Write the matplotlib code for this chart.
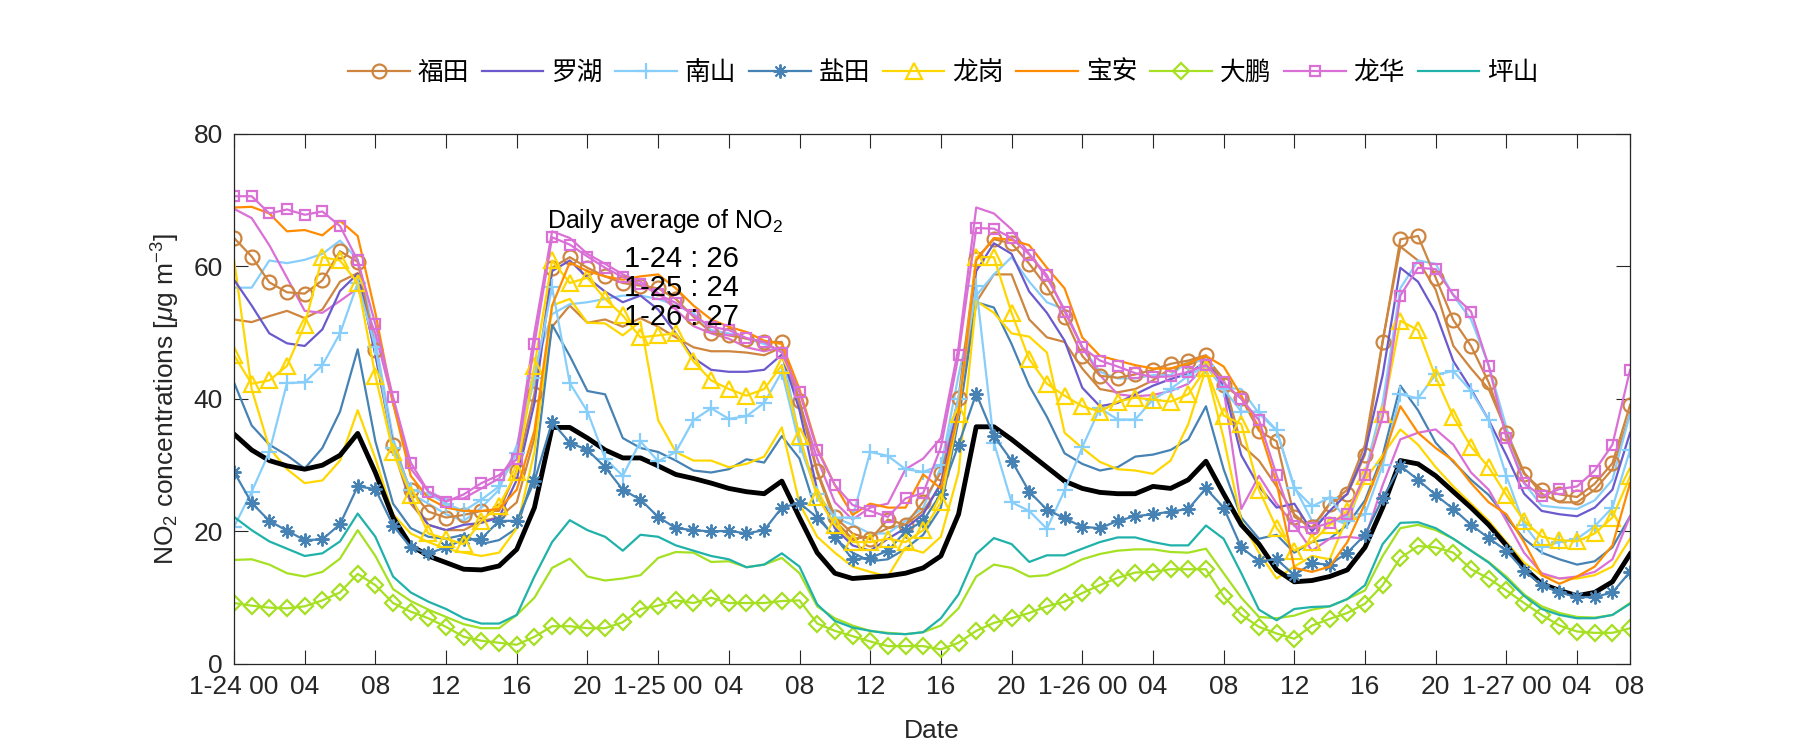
import matplotlib
matplotlib.use("Agg")
import matplotlib.pyplot as plt
from matplotlib import font_manager

# hours since 1-24 00 (80 hourly values)
hours = list(range(80))

futian = [64.3, 61.5, 57.6, 56.1, 55.9, 57.9, 62.3, 60.7, 47.4, 33.0, 26.2, 23.0, 22.1, 22.5,
          23.1, 23.1, 29.2, 40.8, 59.8, 61.4, 59.8, 58.5, 57.5, 57.1, 56.7, 55.1, 52.4,
          50.0, 49.6, 49.1, 48.6, 48.6, 39.7, 29.2, 22.2, 19.7, 18.8, 21.8, 21.0, 24.5,
          28.9, 40.2, 61.2, 64.1, 63.5, 60.4, 56.9, 52.3, 46.5, 43.5, 43.2, 43.7, 44.4,
          45.3, 45.8, 46.6, 42.1, 40.1, 35.2, 33.6, 22.2, 20.6, 24.2, 25.6, 31.6, 48.6,
          64.1, 64.6, 58.3, 51.9, 48.0, 42.5, 34.9, 28.7, 26.3, 25.6, 25.2, 27.2, 30.3, 39.1]
luohu = [58.0, 54.1, 49.9, 48.4, 48.0, 50.5, 56.3, 58.9, 46.7, 33.1, 24.7, 21.0, 20.2, 21.0,
         21.3, 22.1, 27.8, 39.4, 59.3, 60.9, 58.3, 56.2, 54.6, 55.6, 53.5, 49.9, 46.2,
         44.4, 44.1, 44.1, 44.4, 46.7, 38.3, 26.3, 20.5, 17.9, 17.1, 18.9, 20.5, 22.6,
         27.3, 39.4, 59.3, 63.5, 61.9, 56.2, 53.0, 48.8, 41.7, 38.9, 39.4, 40.7, 42.0,
         43.0, 43.8, 45.7, 42.0, 31.5, 26.8, 23.6, 24.2, 20.0, 23.1, 25.7, 32.0, 43.6,
         59.8, 57.7, 53.0, 45.7, 41.5, 36.8, 31.5, 25.7, 23.1, 22.6, 22.3, 23.6, 26.3, 34.9]
nanshan = [20.7, 26.0, 32.0, 42.4, 42.5, 45.1, 49.9, 57.5, 47.8, 32.6, 26.3, 25.7, 24.2, 23.1,
           24.8, 26.8, 31.8, 43.1, 56.9, 42.4, 38.1, 31.0, 28.4, 33.6, 30.6, 32.0, 36.8,
           38.6, 37.0, 37.4, 39.4, 44.1, 33.1, 25.7, 22.1, 22.1, 32.0, 31.4, 29.4, 29.0,
           30.0, 40.0, 57.0, 33.4, 24.4, 23.1, 20.4, 26.2, 32.7, 38.6, 36.9, 36.9, 39.9,
           41.5, 43.5, 45.0, 41.5, 38.1, 38.1, 35.3, 26.5, 23.8, 25.1, 21.6, 22.6, 30.0,
           40.7, 40.1, 43.7, 44.2, 41.2, 36.8, 28.4, 21.0, 17.6, 18.4, 18.9, 20.8, 23.6, 32.3]
yantian = [29.0, 24.3, 21.6, 20.1, 18.7, 18.8, 21.1, 26.8, 26.4, 20.9, 17.6, 16.7, 17.6, 18.8,
           18.9, 21.6, 21.6, 27.6, 36.5, 33.4, 32.3, 29.7, 26.3, 24.8, 22.2, 20.5, 20.2,
           20.0, 20.1, 19.7, 20.2, 23.6, 24.3, 22.1, 19.2, 15.8, 16.0, 17.1, 20.0, 21.6,
           25.7, 33.1, 40.8, 34.4, 30.7, 26.0, 23.3, 22.0, 20.7, 20.5, 21.6, 22.3, 22.6,
           23.0, 23.4, 26.5, 23.6, 17.6, 15.5, 15.8, 13.4, 15.2, 15.0, 16.8, 19.5, 25.0,
           29.9, 27.8, 25.5, 23.4, 21.0, 19.0, 17.1, 14.1, 11.9, 10.8, 10.1, 10.1, 10.8, 13.9]
longgang = [46.6, 42.3, 42.8, 45.0, 51.2, 61.4, 60.9, 57.5, 43.5, 32.0, 25.5, 19.7, 18.9, 18.1,
            21.6, 23.9, 29.0, 45.0, 60.9, 57.5, 58.3, 55.1, 52.6, 49.3, 49.6, 49.9, 45.7,
            42.8, 41.5, 40.5, 41.5, 45.1, 34.4, 25.2, 21.0, 18.4, 18.4, 18.9, 18.4, 20.2,
            24.4, 37.8, 61.4, 61.4, 53.0, 46.0, 42.3, 40.5, 38.9, 38.1, 39.6, 40.2, 39.9,
            39.6, 40.7, 44.6, 37.5, 36.2, 26.3, 20.5, 17.1, 18.4, 21.0, 23.1, 28.4, 37.8,
            51.8, 50.4, 43.3, 37.3, 32.8, 29.7, 25.5, 21.6, 19.2, 18.7, 18.5, 19.7, 22.1, 28.3]
baoan = [68.9, 69.0, 68.0, 65.3, 65.5, 64.7, 66.9, 64.6, 53.0, 39.4, 28.4, 25.0, 23.6, 23.1,
         23.1, 23.4, 26.3, 35.2, 54.1, 60.6, 59.3, 58.5, 58.0, 58.5, 58.8, 56.7, 54.1,
         52.0, 50.9, 50.1, 48.8, 48.3, 41.5, 32.6, 27.0, 22.5, 24.2, 23.6, 23.6, 28.6,
         26.5, 38.0, 60.9, 64.3, 64.0, 63.2, 59.8, 56.7, 49.3, 46.5, 45.8, 45.1, 44.6,
         44.6, 45.4, 46.5, 44.9, 40.5, 35.7, 27.3, 14.5, 13.9, 14.7, 18.4, 24.2, 31.0,
         38.9, 34.9, 32.6, 30.7, 27.3, 24.4, 22.6, 18.4, 13.4, 12.1, 13.2, 14.7, 17.9, 27.3]
dapeng = [9.2, 8.8, 8.5, 8.4, 8.7, 9.6, 10.8, 13.6, 11.9, 9.2, 7.9, 6.9, 5.6, 4.1,
          3.5, 3.2, 2.9, 4.1, 5.7, 5.7, 5.4, 5.4, 6.3, 8.3, 8.8, 9.6, 9.2,
          10.0, 9.2, 9.2, 9.2, 9.5, 9.6, 6.1, 5.0, 4.2, 3.4, 2.7, 2.7, 2.7,
          2.2, 3.2, 5.0, 6.2, 6.9, 7.7, 8.7, 9.4, 10.7, 11.9, 13.0, 13.8, 13.9,
          14.3, 14.3, 14.3, 10.2, 7.4, 5.6, 4.6, 3.8, 5.8, 6.8, 7.7, 9.1, 11.9,
          16.0, 17.8, 17.6, 16.8, 14.3, 12.9, 11.1, 9.2, 7.4, 5.8, 4.9, 4.7, 4.7, 5.4]
longhua = [70.6, 70.6, 68.0, 68.6, 67.8, 68.3, 66.1, 60.9, 51.3, 40.3, 30.4, 26.0, 24.5, 25.6,
           27.3, 28.5, 30.9, 48.3, 64.4, 63.3, 61.5, 59.8, 58.4, 57.3, 55.8, 54.5, 52.6,
           50.9, 50.4, 49.2, 48.6, 47.0, 41.0, 32.3, 27.0, 24.0, 23.1, 22.2, 25.0, 25.8,
           32.7, 46.6, 65.8, 65.7, 64.3, 61.8, 58.7, 53.2, 47.8, 45.8, 44.9, 43.9, 43.3,
           43.4, 44.1, 45.1, 42.5, 40.0, 36.8, 28.5, 20.8, 20.5, 21.3, 22.6, 28.5, 37.3,
           55.6, 59.8, 59.6, 55.7, 53.2, 45.0, 34.1, 27.3, 25.3, 26.4, 26.8, 29.2, 33.1, 44.4]
pingshan = [22.2, 20.2, 18.5, 17.4, 16.3, 16.7, 18.5, 22.7, 19.2, 13.2, 10.8, 9.4, 8.3, 6.9,
            6.1, 6.1, 7.4, 13.2, 18.4, 21.7, 20.2, 19.2, 17.1, 19.5, 19.2, 17.9, 17.1,
            16.3, 15.8, 14.6, 15.0, 16.7, 14.7, 9.0, 6.5, 5.5, 5.0, 4.6, 4.5, 4.8,
            6.9, 10.5, 16.6, 19.0, 18.1, 15.4, 16.4, 16.4, 17.4, 18.4, 19.1, 19.1, 18.4,
            17.9, 17.9, 20.9, 18.9, 13.7, 8.2, 6.6, 8.3, 8.6, 8.7, 9.8, 11.9, 18.1,
            21.3, 21.4, 20.5, 18.9, 17.1, 15.3, 12.9, 10.3, 8.3, 7.4, 6.9, 6.9, 7.4, 9.1]

# second sites in the same districts (drawn without markers, not in legend)
futian_b = [52.0, 51.6, 52.5, 53.3, 52.2, 53.5, 57.7, 59.0, 46.7, 32.6, 24.2, 21.0, 20.2, 20.2,
            21.6, 22.1, 24.4, 34.1, 50.9, 54.1, 51.5, 52.0, 50.9, 52.2, 50.9, 49.3, 47.8,
            47.2, 47.2, 47.0, 46.6, 47.8, 39.4, 28.9, 21.6, 18.9, 19.2, 20.5, 21.0, 23.1,
            27.0, 40.0, 54.6, 58.8, 58.8, 52.0, 49.3, 48.6, 44.6, 41.5, 41.0, 41.5, 42.8,
            44.6, 45.1, 46.3, 43.0, 33.1, 30.7, 26.8, 22.6, 20.2, 24.2, 26.3, 33.1, 48.8,
            63.0, 60.9, 56.5, 48.0, 44.6, 41.5, 35.2, 28.9, 25.7, 24.4, 24.4, 26.3, 29.4, 37.8]
nanshan_b = [56.8, 56.8, 60.9, 60.5, 61.0, 61.9, 63.9, 61.1, 48.8, 34.1, 25.7, 24.2, 22.6, 21.6,
             23.6, 26.3, 33.0, 44.6, 52.8, 54.3, 54.6, 55.1, 55.6, 55.6, 55.1, 54.1, 53.0,
             50.4, 49.9, 49.1, 48.3, 47.2, 34.1, 25.7, 22.1, 21.0, 19.7, 19.7, 21.6, 23.6,
             29.7, 43.6, 55.6, 58.8, 61.4, 57.7, 54.6, 53.5, 47.8, 44.1, 43.1, 43.1, 43.6,
             43.6, 45.7, 45.7, 41.7, 41.5, 37.8, 35.2, 26.8, 21.6, 22.1, 21.0, 28.9, 39.4,
             56.7, 60.9, 60.4, 55.6, 52.0, 45.1, 35.7, 27.3, 23.9, 23.6, 23.4, 24.7, 27.8, 37.8]
longgang_b = [61.1, 41.5, 32.6, 29.4, 27.3, 27.7, 30.7, 38.3, 31.0, 22.6, 19.7, 18.4, 17.4, 16.8,
              16.3, 16.8, 20.5, 32.0, 54.1, 55.1, 51.5, 51.4, 49.6, 51.7, 36.8, 32.0, 30.7,
              30.7, 29.7, 30.2, 31.3, 35.7, 24.2, 19.2, 16.8, 14.7, 13.9, 13.2, 17.6, 16.8,
              19.2, 28.9, 54.8, 53.0, 49.9, 49.4, 47.0, 34.9, 32.6, 30.5, 29.4, 29.2, 28.7,
              30.7, 36.2, 44.6, 34.1, 21.6, 16.8, 12.9, 14.7, 16.3, 15.8, 22.1, 27.8, 31.5,
              35.4, 33.1, 29.7, 26.8, 24.2, 21.6, 18.4, 15.3, 13.4, 12.9, 12.9, 13.4, 14.7, 18.9]
yantian_b = [42.5, 36.0, 33.1, 31.5, 29.5, 32.6, 38.1, 47.5, 33.6, 24.2, 20.5, 19.2, 18.9, 19.5,
             18.1, 18.7, 20.5, 28.9, 51.2, 46.5, 41.2, 40.7, 34.1, 32.6, 32.0, 30.7, 29.2,
             28.9, 29.4, 30.9, 30.4, 34.4, 31.0, 22.6, 18.9, 16.8, 15.5, 15.8, 17.4, 19.5,
             23.6, 36.8, 54.6, 53.8, 48.3, 42.0, 37.3, 31.8, 30.2, 29.2, 29.7, 31.3, 31.6,
             32.3, 33.9, 38.9, 29.4, 22.1, 18.9, 19.5, 16.8, 18.4, 18.9, 21.0, 24.7, 31.5,
             42.0, 38.3, 33.4, 30.5, 27.8, 25.5, 22.1, 18.9, 16.8, 15.8, 15.0, 15.5, 17.6, 22.3]
longhua_b = [68.7, 67.3, 63.2, 58.3, 53.3, 53.0, 54.8, 56.7, 49.9, 39.4, 29.5, 26.0, 24.8, 25.0,
             26.5, 28.0, 32.0, 50.0, 65.3, 64.3, 61.9, 60.4, 58.8, 57.7, 56.0, 53.5, 51.0,
             49.9, 49.1, 47.8, 47.2, 47.8, 39.4, 31.0, 24.4, 21.8, 23.6, 24.2, 29.4, 31.0,
             34.1, 47.8, 68.9, 68.0, 65.6, 61.9, 58.3, 53.5, 47.8, 43.6, 40.7, 40.4, 40.6,
             41.2, 42.3, 45.1, 41.5, 23.4, 28.4, 24.2, 21.0, 17.1, 18.9, 19.2, 18.9, 27.0,
             33.9, 34.9, 35.4, 33.1, 28.9, 26.3, 21.6, 16.8, 13.7, 12.9, 13.2, 13.9, 15.8, 22.3]
dapeng_b = [15.7, 15.8, 15.0, 13.7, 13.2, 13.9, 15.9, 20.2, 16.3, 11.3, 9.5, 8.2, 7.1, 6.0,
            5.4, 5.4, 7.4, 10.0, 14.5, 15.9, 13.2, 12.6, 12.9, 13.4, 16.0, 16.9, 16.8,
            15.4, 15.5, 14.6, 15.0, 16.0, 13.7, 8.7, 6.9, 5.8, 5.0, 4.7, 4.5, 4.8,
            5.8, 8.4, 13.2, 15.0, 14.5, 13.2, 13.4, 14.5, 15.8, 16.6, 17.1, 17.3, 17.3,
            16.9, 16.8, 17.4, 13.7, 10.0, 7.1, 6.9, 7.3, 8.2, 8.7, 9.8, 11.1, 16.3,
            20.5, 21.0, 20.2, 18.9, 17.1, 15.4, 13.2, 10.5, 8.7, 7.7, 7.1, 7.0, 7.4, 9.2]

city_mean = [34.7, 32.3, 30.7, 29.9, 29.4, 30.0, 31.5, 34.8, 28.9, 22.1, 17.9, 16.3, 15.3, 14.3,
             14.2, 14.8, 17.3, 23.6, 35.7, 35.7, 34.1, 32.3, 31.1, 31.1, 29.9, 28.6, 28.0,
             27.3, 26.5, 26.0, 25.7, 27.6, 22.1, 16.8, 13.7, 12.9, 13.1, 13.3, 13.7, 14.5,
             16.3, 22.6, 35.8, 35.8, 33.9, 31.8, 29.7, 27.6, 26.5, 25.9, 25.7, 25.7, 26.8,
             26.5, 27.8, 30.6, 25.7, 21.0, 18.1, 14.2, 12.4, 12.6, 13.2, 14.2, 17.6, 23.6,
             30.7, 30.2, 28.4, 26.0, 23.6, 21.0, 17.9, 14.5, 12.1, 11.1, 10.3, 10.8, 12.4, 16.6]

tick_pos = list(range(0, 77, 4)) + [79]
tick_labels = ['1-24 00', '04', '08', '12', '16', '20',
               '1-25 00', '04', '08', '12', '16', '20',
               '1-26 00', '04', '08', '12', '16', '20',
               '1-27 00', '04', '08']
daily_days = ['1-24', '1-25', '1-26']
daily_values = [26, 24, 27]

installed = {f.name for f in font_manager.fontManager.ttflist}
base = 'Liberation Sans Narrow' if 'Liberation Sans Narrow' in installed else 'Liberation Sans'
plt.rcParams['font.family'] = [base, 'Noto Sans CJK SC', 'DejaVu Sans']
plt.rcParams['mathtext.fontset'] = 'custom'
plt.rcParams['mathtext.rm'] = base
plt.rcParams['mathtext.it'] = base + ':italic'

c_futian = '#CD853F'
c_luohu = '#6A5ACD'
c_nanshan = '#87CEFA'
c_yantian = '#4682B4'
c_longgang = '#FFD700'
c_baoan = '#FF8C00'
c_dapeng = '#A6E022'
c_longhua = '#DA70D6'
c_pingshan = '#20B2AA'

fig = plt.figure(figsize=(18, 7.5), dpi=100)
ax = fig.add_axes([0.13, 0.1147, 0.7756, 0.7067])

lw = 1.6
ax.plot(hours, futian_b, color=c_futian, lw=lw)
ax.plot(hours, nanshan_b, color=c_nanshan, lw=lw)
ax.plot(hours, yantian_b, color=c_yantian, lw=lw)
ax.plot(hours, longgang_b, color=c_longgang, lw=lw)
ax.plot(hours, longhua_b, color=c_longhua, lw=lw)
ax.plot(hours, dapeng_b, color=c_dapeng, lw=lw)
ax.plot(hours, city_mean, color='black', lw=3.5)

mfc = 'none'
ax.plot(hours, futian, color=c_futian, lw=lw, marker='o', ms=10, mfc=mfc, mew=1.6, label='福田')
ax.plot(hours, luohu, color=c_luohu, lw=lw, label='罗湖')
ax.plot(hours, nanshan, color=c_nanshan, lw=lw, marker='+', ms=11, mew=1.6, label='南山')
ax.plot(hours, yantian, color=c_yantian, lw=lw, marker=(8, 2, 0), ms=10, mew=1.4, label='盐田')
ax.plot(hours, longgang, color=c_longgang, lw=lw, marker='^', ms=11, mfc=mfc, mew=1.6, label='龙岗')
ax.plot(hours, baoan, color=c_baoan, lw=lw, label='宝安')
ax.plot(hours, dapeng, color=c_dapeng, lw=lw, marker='D', ms=8, mfc=mfc, mew=1.6, label='大鹏')
ax.plot(hours, longhua, color=c_longhua, lw=lw, marker='s', ms=7, mfc=mfc, mew=1.6, label='龙华')
ax.plot(hours, pingshan, color=c_pingshan, lw=lw, label='坪山')

ax.set_xlim(0, 79)
ax.set_ylim(0, 80)
ax.set_xticks(tick_pos)
ax.set_xticklabels(tick_labels)
ax.set_yticks([0, 20, 40, 60, 80])
ax.tick_params(direction='in', top=True, right=True, length=10, width=0.8,
               labelsize=19, colors='#262626', pad=8)
for s in ax.spines.values():
    s.set_color('#262626')
    s.set_linewidth(0.9)

ax.set_xlabel('Date', fontsize=19, color='#262626', labelpad=14)
ax.set_ylabel('NO$_2$ concentrations [$\\mu$g m$^{-3}$]', fontsize=19, color='#262626', labelpad=8)

ax.text(24.4, 66.8, 'Daily average of NO$_2$', ha='center', va='center',
        fontsize=18, color='black')
for i, (d, v) in enumerate(zip(daily_days, daily_values)):
    ax.text(25.3, 61.2 - 4.4 * i, f'{d} : {v}', ha='center', va='center',
            fontsize=21, color='black')

handles, labels = ax.get_legend_handles_labels()
fig.legend(handles, labels, loc='center', bbox_to_anchor=(0.524, 0.903), ncol=9,
           frameon=False, fontsize=18.5, handlelength=2.4, handletextpad=0.3,
           columnspacing=0.5)

fig.savefig('out.png', dpi=100)
